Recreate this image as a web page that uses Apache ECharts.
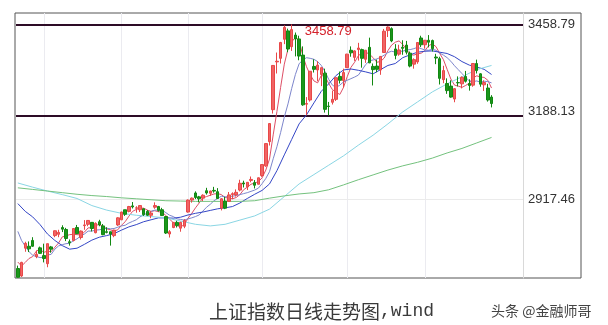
<!DOCTYPE html>
<html><head><meta charset="utf-8">
<script src="https://cdn.jsdelivr.net/npm/echarts@6/dist/echarts.min.js"></script>
<style>html,body{margin:0;padding:0;background:#fff}#c{width:608px;height:325px}</style>
</head><body><div id="c"></div>
<script>
// ---- data ----
const dates = ['03-23','03-24','03-25','03-26','03-27','03-30','03-31',
'04-01','04-02','04-03','04-07','04-08','04-09','04-10','04-13','04-14','04-15','04-16','04-17','04-20','04-21','04-22','04-23','04-24','04-27','04-28','04-29','04-30',
'05-06','05-07','05-08','05-11','05-12','05-13','05-14','05-15','05-18','05-19','05-20','05-21','05-22','05-25','05-26','05-27','05-28','05-29',
'06-01','06-02','06-03','06-04','06-05','06-08','06-09','06-10','06-11','06-12','06-15','06-16','06-17','06-18','06-19','06-22','06-23','06-24','06-29','06-30',
'07-01','07-02','07-03','07-06','07-07','07-08','07-09','07-10','07-13','07-14','07-15','07-16','07-17','07-20','07-21','07-22','07-23','07-24','07-27','07-28','07-29','07-30','07-31',
'08-03','08-04','08-05','08-06','08-07','08-10','08-11','08-12','08-13','08-14','08-17','08-18','08-19','08-20','08-21','08-24','08-25','08-26','08-27','08-28','08-31',
'09-01','09-02','09-03','09-04','09-07','09-08','09-09','09-10','09-11','09-14','09-15','09-16','09-17','09-18','09-21','09-22','09-23','09-24','09-25'];
const emptySlots = ['','','','','','','',''];
const monthStarts = ['04-01','05-06','06-01','07-01','08-03','09-01'];

// [open, close, low, high]
const ohlc = [
[2703,2676,2675,2712],[2680,2722,2677,2724],[2766,2781,2755,2786],[2772,2764,2754,2787],[2790,2772,2770,2800],[2740,2747,2735,2759],[2767,2750,2748,2771],
[2743,2734,2722,2780],[2718,2780,2707,2780],[2770,2763,2752,2773],[2805,2820,2800,2821],[2809,2815,2800,2823],[2830,2825,2816,2837],[2824,2796,2788,2829],[2786,2783,2774,2793],[2790,2827,2787,2827],[2830,2811,2810,2838],[2799,2819,2793,2821],[2836,2838,2823,2853],[2840,2852,2834,2853],[2846,2827,2818,2847],[2814,2843,2812,2846],[2848,2838,2834,2854],[2835,2808,2806,2841],[2817,2815,2812,2831],[2817,2810,2774,2817],[2805,2822,2800,2823],[2838,2860,2835,2862],
[2854,2878,2853,2879],[2885,2871,2866,2885],[2880,2895,2877,2897],[2897,2894,2889,2909],[2890,2891,2876,2896],[2885,2898,2878,2899],[2888,2870,2866,2889],[2880,2868,2866,2884],[2868,2875,2859,2881],[2893,2898,2888,2908],[2895,2883,2879,2897],[2885,2867,2866,2891],[2864,2813,2810,2865],[2810,2817,2799,2822],[2830,2846,2828,2847],[2846,2836,2830,2851],[2828,2846,2817,2848],[2834,2852,2828,2856],
[2878,2915,2876,2917],[2915,2921,2907,2923],[2937,2923,2918,2942],[2925,2919,2908,2928],[2921,2930,2912,2933],[2944,2937,2932,2953],[2936,2943,2928,2944],[2945,2943,2938,2956],[2941,2920,2919,2952],[2890,2919,2883,2921],[2912,2890,2887,2925],[2911,2931,2910,2940],[2932,2935,2918,2939],[2931,2939,2926,2948],[2946,2967,2942,2978],[2968,2965,2954,2975],[2956,2970,2946,2971],[2976,2979,2970,2988],[2969,2961,2951,2977],[2964,2984,2964,2985],
[2991,3025,2987,3025],[3021,3090,3018,3090],[3096,3152,3084,3153],[3195,3332,3183,3333],[3343,3345,3307,3372],[3354,3403,3338,3405],[3413,3450,3398,3456],[3439,3383,3373,3446],[3390,3443,3377,3458.79],[3426,3414,3360,3434],[3414,3361,3348,3424],[3364,3210,3207,3391],[3212,3214,3178,3234],[3225,3314,3220,3314],[3329,3320,3310,3351],[3318,3333,3283,3345],[3304,3325,3268,3326],[3308,3196,3186,3322],[3206,3205,3177,3219],[3218,3227,3211,3254],[3227,3294,3222,3294],[3298,3286,3276,3313],[3285,3310,3263,3322],
[3325,3367,3324,3368],[3379,3371,3359,3391],[3357,3377,3346,3379],[3381,3386,3347,3402],[3381,3354,3325,3384],[3351,3379,3340,3380],[3388,3340,3339,3418],[3329,3319,3270,3338],[3330,3320,3311,3350],[3318,3360,3303,3361],[3372,3438,3371,3445],[3440,3451,3420,3453],[3446,3408,3404,3450],[3383,3363,3351,3398],[3367,3380,3362,3396],[3388,3385,3365,3410],[3395,3373,3366,3408],[3370,3330,3326,3375],[3336,3350,3322,3354],[3343,3403,3337,3404],[3417,3396,3389,3424],
[3396,3410,3384,3411],[3410,3404,3388,3426],[3409,3384,3375,3412],[3358,3355,3336,3368],[3353,3292,3273,3359],[3288,3316,3277,3331],[3276,3254,3244,3292],[3268,3234,3232,3286],[3228,3260,3218,3262],[3279,3278,3267,3298],[3275,3295,3261,3298],[3298,3283,3279,3315],[3276,3270,3254,3289],[3271,3338,3266,3339],[3338,3316,3307,3350],[3306,3274,3266,3308],[3272,3279,3253,3286],[3262,3225,3220,3275],[3234,3214,3202,3240]
];

const ma5 = [2723,2711,2722,2734,2740,2757,2763,2753,2757,2755,2769,2782,2801,2804,2808,2809,2808,2807,2816,2829,2829,2836,2840,2834,2826,2823,2819,2823,2837,2848,2865,2880,2886,2890,2890,2884,2880,2882,2879,2878,2867,2856,2845,2836,2832,2839,2859,2874,2891,2906,2922,2926,2930,2934,2935,2932,2923,2921,2919,2923,2932,2947,2955,2964,2968,2972,2984,3008,3042,3117,3189,3264,3336,3383,3405,3419,3410,3362,3328,3303,3284,3278,3301,3298,3276,3257,3249,3242,3264,3297,3326,3342,3362,3371,3373,3367,3356,3342,3344,3355,3378,3395,3404,3408,3397,3382,3366,3364,3368,3370,3378,3393,3399,3390,3369,3350,3320,3290,3271,3268,3264,3270,3277,3293,3300,3296,3295,3286,3262];
const ma10 = [2818,2790,2772,2756,2744,2740,2737,2738,2745,2747,2763,2773,2777,2780,2781,2789,2795,2804,2810,2819,2819,2822,2823,2825,2828,2826,2827,2831,2835,2837,2844,2849,2854,2863,2869,2875,2880,2884,2884,2884,2876,2868,2864,2857,2855,2853,2857,2860,2864,2869,2881,2893,2902,2913,2920,2927,2925,2926,2927,2929,2932,2935,2938,2942,2946,2952,2966,2982,3003,3043,3080,3124,3172,3213,3261,3304,3337,3349,3356,3354,3351,3344,3332,3313,3289,3271,3264,3271,3281,3286,3291,3296,3302,3318,3335,3346,3349,3352,3357,3364,3372,3376,3373,3376,3376,3380,3381,3384,3388,3384,3380,3379,3382,3379,3370,3364,3356,3345,3331,3319,3307,3295,3284,3282,3284,3280,3283,3282,3278];
// [category index, value]
const ma20 = [[0,2904],[2,2880],[4,2863],[6,2839],[8,2810],[10,2790],[12,2774],[14,2763],[16,2766],[18,2778],[20,2791],[22,2800],[24,2805],[26,2811],[28,2822],[30,2832],[32,2839],[34,2848],[36,2854],[38,2860],[40,2860],[42,2859],[44,2862],[46,2869],[48,2874],[50,2878],[52,2883],[54,2888],[56,2891],[58,2895],[60,2906],[62,2920],[64,2933],[66,2945],[68,2965],[70,3006],[72,3055],[74,3103],[76,3151],[78,3179],[80,3216],[82,3252],[84,3275],[86,3301],[88,3318],[90,3321],[92,3317],[94,3312],[96,3306],[98,3319],[100,3332],[102,3338],[104,3356],[106,3365],[108,3373],[110,3376],[112,3377],[114,3373],[116,3369],[118,3359],[120,3344],[122,3333],[124,3327],[126,3320],[128,3304]];
const ma60 = [[0,2968],[4,2955],[8,2943],[12,2932],[16,2920],[20,2898],[24,2884],[28,2874],[32,2868],[36,2864],[40,2860],[44,2850],[48,2840],[52,2835],[56,2840],[60,2853],[64,2866],[68,2887],[72,2926],[76,2965],[80,2994],[84,3023],[88,3052],[92,3085],[96,3116],[100,3151],[104,3188],[108,3219],[112,3250],[116,3275],[120,3297],[124,3319],[128,3332]];
const ma120 = [[0,2953],[4,2948],[8,2943],[12,2938],[16,2933],[20,2929],[24,2926],[28,2922],[32,2919],[36,2916],[40,2913],[44,2912],[48,2911],[52,2911],[56,2911],[60,2911],[64,2913],[68,2921],[72,2928],[76,2934],[80,2938],[84,2947],[88,2962],[92,2978],[96,2993],[100,3008],[104,3021],[108,3032],[112,3045],[116,3061],[120,3075],[124,3092],[128,3109]];

const tickLabels = [2917.46, 3188.13, 3458.79];
const highValue = 3458.79;
const highIndex = 74;
const supportLine = 3176;
const yMin = 2673.7, yMax = 3494.4;

const chart = echarts.init(document.getElementById('c'), null, {renderer:'canvas'});
const maLine = (name, data, color) => ({
  name, type:'line', data, symbol:'none', connectNulls:true, silent:true, clip:true,
  lineStyle:{color, width:1}, z:3
});
chart.setOption({
  animation:false,
  backgroundColor:'#fff',
  title:[
    {text:'{a|上证指数日线走势图}{b|,wind}', left:204, top:297,
     textStyle:{fontWeight:'normal', rich:{
       a:{fontSize:19, fontFamily:'Noto Sans CJK SC', fontWeight:'normal', color:'#3a3a3a'},
       b:{fontSize:18, fontFamily:'Liberation Mono', fontWeight:'normal', color:'#3a3a3a'}}}},
    {text:'头条 @金融师哥', left:486, top:299,
     textStyle:{fontSize:14, fontWeight:'normal', fontFamily:'Noto Sans CJK SC', color:'#444'}}
  ],
  grid:[
    {left:16, right:85, top:13, bottom:47},
    {left:15, right:27, top:13, bottom:47, show:true, borderColor:'#555', borderWidth:1, backgroundColor:'transparent'}
  ],
  xAxis:[
    {type:'category', gridIndex:0, data:dates.concat(emptySlots), boundaryGap:true,
     axisLine:{show:false}, axisTick:{show:false}, axisLabel:{show:false},
     splitLine:{show:true, alignWithLabel:true, interval:(i, v) => monthStarts.indexOf(v) >= 0,
       lineStyle:{color:'#ebebf0', width:1}}},
    {type:'value', gridIndex:1, show:false}
  ],
  yAxis:[
    {type:'value', gridIndex:0, position:'right', min:yMin, max:yMax, scale:true,
     axisLine:{show:true, lineStyle:{color:'#d9d9d9'}}, axisTick:{show:false},
     splitLine:{show:false},
     axisLabel:{customValues:tickLabels, color:'#333', fontSize:13, fontFamily:'Liberation Sans', margin:5,
       formatter:v => v.toFixed(2)}},
    {type:'value', gridIndex:1, show:false}
  ],
  series:[
    {name:'K', type:'candlestick', data:ohlc, barWidth:3, z:4, clip:true,
     itemStyle:{color:'#f06464', color0:'#1b961b', borderColor:'#e84848', borderColor0:'#128812', borderWidth:1},
     markLine:{silent:true, symbol:['none','none'], label:{show:false}, z:1,
       data:[
         {yAxis:tickLabels[0], lineStyle:{color:'#ebebeb', width:1, type:'solid'}},
         {yAxis:highValue, lineStyle:{color:'#2d0c26', width:2, type:'solid'}},
         {yAxis:supportLine, lineStyle:{color:'#2d0c26', width:2, type:'solid'}}
       ]},
     markPoint:{silent:true, symbol:'circle', symbolSize:0,
       data:[{coord:[highIndex, highValue], value:highValue}],
       label:{show:true, position:'right', distance:13, offset:[0,7], color:'#d4212b', fontSize:13,
         fontFamily:'Liberation Sans', formatter:p => p.value.toFixed(2)}}},
    maLine('MA5', ma5, '#de4f66'),
    maLine('MA10', ma10, '#7d86cc'),
    maLine('MA20', ma20, '#3446c6'),
    maLine('MA60', ma60, '#8ad6e4'),
    maLine('MA120', ma120, '#74c27e')
  ]
});
</script></body></html>
